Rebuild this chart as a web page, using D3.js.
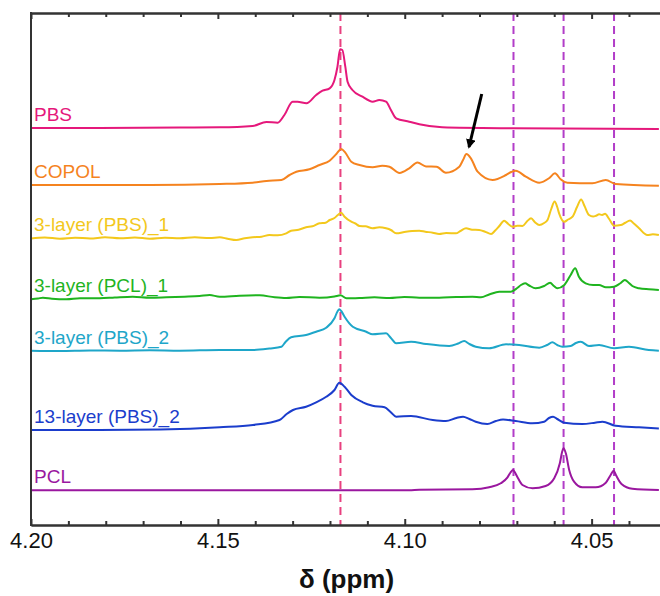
<html>
<head>
<meta charset="utf-8">
<script src="https://cdn.jsdelivr.net/npm/d3@7/dist/d3.min.js"></script>
<style>
body { margin: 0; background: #fff; font-family: "Liberation Sans", Arial, sans-serif; }
.axis path, .axis line { stroke: #333; stroke-width: 2px; }
.axis text { font-size: 22px; fill: #111; font-family: "Liberation Sans", Arial, sans-serif; }
.label { font-size: 19px; }
</style>
</head>
<body>
<svg id="chart" width="660" height="596"></svg>
<script>
// series names, colours and vertical offsets (a.u.)
var names = ["PBS", "COPOL", "3-layer (PBS)_1", "3-layer (PCL)_1", "3-layer (PBS)_2", "13-layer (PBS)_2", "PCL"];
var colors = ["#e5187b", "#f5831f", "#f3c81c", "#1fb41f", "#1ea6c9", "#1b3dcc", "#9a179f"];
var offsets = [397, 340, 287, 226, 174, 95, 35];

// [ppm, intensity]
var pbs = [[4.2,0],[4.1816,0],[4.1602,0.5],[4.1495,0.7],[4.1407,2],[4.137,6],[4.134,5.3],[4.1322,13],[4.13,26.3],[4.1287,26.3],[4.1263,24.7],[4.1237,33],[4.122,37.3],[4.1201,39.7],[4.1188,48],[4.118,61.3],[4.1173,78.7],[4.1167,78],[4.1159,61.3],[4.1153,46.3],[4.114,38],[4.1113,31.3],[4.1086,26.3],[4.1068,28],[4.105,26.3],[4.1037,18],[4.1023,9.7],[4.0988,6.3],[4.0961,3.7],[4.09,0.7],[4.0713,-0.3],[4.032,-1]];
var copol = [[4.2,0],[4.1682,0],[4.1495,1],[4.1407,2.3],[4.137,4],[4.133,5],[4.1308,10],[4.129,13.3],[4.1255,15.7],[4.1228,20],[4.1201,24.3],[4.1183,31],[4.117,36],[4.1159,32.3],[4.1143,23.3],[4.1121,20],[4.1086,17.7],[4.106,19.3],[4.1041,18.3],[4.1014,12],[4.0988,16.7],[4.0966,22.5],[4.0943,18.5],[4.0915,18.3],[4.089,12.3],[4.0854,18.3],[4.0844,25],[4.0835,31],[4.0823,26.7],[4.0805,13.3],[4.0765,5],[4.0729,10],[4.0715,13],[4.0703,14.3],[4.0676,8.3],[4.064,2.3],[4.0614,6.7],[4.0598,11.7],[4.0583,5.7],[4.0565,2.3],[4.0498,1.7],[4.0462,5],[4.0436,1],[4.032,-0.7]];
var layer3pbs1 = [[4.2,-0.5],[4.1963,0.5],[4.1923,-0.7],[4.1882,0.3],[4.1842,-0.5],[4.1802,0.7],[4.1762,-0.3],[4.1722,0.5],[4.1682,-0.7],[4.1642,0.3],[4.1602,-0.3],[4.1562,0.7],[4.1522,0],[4.1495,0.7],[4.1474,-0.7],[4.1451,-2],[4.1428,-0.3],[4.1407,0.7],[4.1383,1.3],[4.1362,3],[4.134,2.7],[4.1317,4.7],[4.1304,7.3],[4.1284,8.3],[4.1264,10.7],[4.1247,11.7],[4.1228,14.7],[4.1212,15.3],[4.1201,18],[4.1188,20],[4.1179,23],[4.117,25.3],[4.1161,21.3],[4.1143,16.3],[4.1132,14.5],[4.1121,12],[4.1105,11.7],[4.1086,9.7],[4.1068,10.7],[4.105,9.7],[4.1037,8],[4.1023,4.7],[4.0997,6.3],[4.098,7],[4.0961,7.3],[4.0945,6.3],[4.0925,5.3],[4.0908,4],[4.0889,5],[4.0863,4.7],[4.0851,7],[4.0836,9.7],[4.082,8.3],[4.0801,8],[4.0785,6.3],[4.0769,4],[4.0758,7.5],[4.0747,12],[4.0734,17.3],[4.0723,14],[4.0711,11.3],[4.0699,12.3],[4.0685,12],[4.0672,17],[4.0662,19.7],[4.0651,15.5],[4.064,13],[4.0627,15],[4.0618,18],[4.0608,29],[4.0599,36.5],[4.0592,31],[4.0587,24.7],[4.0573,16.3],[4.0563,18.5],[4.0551,21.3],[4.0539,31],[4.0528,38.5],[4.0519,32],[4.0507,23],[4.0496,21.5],[4.0488,22.3],[4.048,23.7],[4.0472,23],[4.0464,24.3],[4.0453,19],[4.044,12.3],[4.0422,13],[4.0411,15],[4.0397,17.5],[4.0387,14.5],[4.0373,9.7],[4.0351,3],[4.0336,3.7],[4.032,3]];
var layer3pcl1 = [[4.2,-0.3],[4.1981,0.5],[4.1968,1.3],[4.1944,0.3],[4.1905,-0.3],[4.1869,0.7],[4.1816,0.7],[4.1776,1.5],[4.1728,2.3],[4.1682,1.3],[4.1638,1.7],[4.1589,2.3],[4.1549,3],[4.1522,4],[4.1495,2.3],[4.1442,3.3],[4.1388,3.7],[4.1348,1.7],[4.1317,1],[4.1282,2],[4.1228,1.3],[4.1188,2.5],[4.1172,3.7],[4.1156,0.7],[4.1121,1],[4.1081,1.7],[4.1041,1],[4.1001,2],[4.0961,1.3],[4.0908,1.3],[4.0862,2],[4.0819,2.3],[4.0796,1.7],[4.0774,4.5],[4.0747,7.3],[4.0716,7.3],[4.0699,11],[4.0689,14],[4.0678,15.7],[4.0667,13.5],[4.065,10.7],[4.0627,13],[4.0611,16.3],[4.0601,13],[4.0592,10.7],[4.0573,14],[4.0556,24],[4.0544,30.7],[4.0534,22.3],[4.0516,15.7],[4.0496,14],[4.048,14],[4.0462,11.7],[4.044,12.3],[4.0424,15.5],[4.0411,19],[4.04,16],[4.0391,13],[4.0373,10.7],[4.0347,9.7],[4.032,9]];
var layer3pbs2 = [[4.2,0.3],[4.1923,0],[4.1842,0.5],[4.1762,0.3],[4.1682,0.7],[4.1602,0.3],[4.1495,1],[4.1406,1],[4.1362,2.5],[4.133,4.3],[4.1319,9],[4.1304,13.7],[4.1264,16],[4.1237,19.3],[4.121,23.3],[4.1188,32.7],[4.118,39.5],[4.1175,41.7],[4.117,40],[4.1161,34.3],[4.1139,24.3],[4.1103,19.3],[4.1086,16.7],[4.105,17.7],[4.1037,13],[4.1023,7.7],[4.0983,9.3],[4.0943,7],[4.0881,5],[4.0857,7.5],[4.0841,10],[4.0827,7],[4.081,4.3],[4.0774,2.7],[4.0729,6.7],[4.0694,6],[4.064,3.3],[4.0619,6],[4.0605,8.7],[4.0592,6],[4.0578,4.3],[4.0556,5],[4.0542,8],[4.0529,9.3],[4.0507,5],[4.048,6],[4.044,2.7],[4.04,4.3],[4.0347,1],[4.032,0.3]];
var layer13pbs2 = [[4.2,0],[4.1816,0],[4.1655,0.5],[4.1495,2.7],[4.1406,5],[4.1335,10],[4.1316,16],[4.1299,20],[4.1264,23.3],[4.1237,27.7],[4.121,33.3],[4.1188,40],[4.1175,47.3],[4.1161,43.3],[4.1143,35],[4.1112,27.7],[4.1086,24.3],[4.1054,22.7],[4.1038,18],[4.1023,13.3],[4.0983,14],[4.0925,10],[4.089,9],[4.0862,12],[4.0844,13.3],[4.0827,11],[4.081,8.3],[4.0779,6],[4.0756,9],[4.0737,10.5],[4.0703,9],[4.0659,6.7],[4.0627,8.3],[4.0614,12],[4.0603,13.3],[4.0592,11],[4.0573,7.3],[4.0525,6],[4.0491,7.3],[4.0471,8.3],[4.0436,4.3],[4.0373,2.7],[4.032,1.5]];
var pcl = [[4.2,-0.3],[4.1282,-0.3],[4.0988,-0.3],[4.0961,0.3],[4.0819,0.7],[4.0774,2.7],[4.0743,6.7],[4.0725,12.7],[4.0717,17.5],[4.071,20],[4.0705,17.5],[4.0699,13.3],[4.0685,5],[4.0658,1.7],[4.0623,4],[4.06,11.7],[4.0585,26.7],[4.0579,38],[4.0575,41.7],[4.0569,36.7],[4.056,20],[4.0547,8.3],[4.0525,2.7],[4.0489,2.7],[4.0462,7.3],[4.0449,15],[4.0441,19.3],[4.0435,15],[4.042,6],[4.0391,1.3],[4.032,0]];
var spectra = [pbs, copol, layer3pbs1, layer3pcl1, layer3pbs2, layer13pbs2, pcl];

// reference lines and axis ticks
var pbsLine = [4.1172];
var pclLines = [4.0709, 4.0575, 4.0440];
var majorTicks = [4.20, 4.15, 4.10, 4.05];
var minorTicks = [4.19, 4.18, 4.17, 4.16, 4.14, 4.13, 4.12, 4.11, 4.09, 4.08, 4.07, 4.06, 4.04];
// arrow annotation: [ppm, a.u.]
var arrowFrom = [4.0794, 431];
var arrowTo = [4.0828, 378];

var svg = d3.select("#chart");
var plotL = 31, plotR = 660, plotT = 13, plotB = 525;

var x = d3.scaleLinear().domain([4.2, 4.0317]).range([plotL, plotR]);
var y = d3.scaleLinear().domain([0, 512]).range([plotB, plotT]);

// dashed guides
svg.selectAll("line.pbsref").data(pbsLine).enter().append("line")
    .attr("x1", function(d) { return x(d); }).attr("x2", function(d) { return x(d); })
    .attr("y1", plotT).attr("y2", plotB)
    .attr("stroke", "#e8407f").attr("stroke-width", 2).attr("stroke-dasharray", "8,5");
svg.selectAll("line.pclref").data(pclLines).enter().append("line")
    .attr("x1", function(d) { return x(d); }).attr("x2", function(d) { return x(d); })
    .attr("y1", plotT).attr("y2", plotB)
    .attr("stroke", "#b23dc8").attr("stroke-width", 2).attr("stroke-dasharray", "8,5");

// spectra
spectra.forEach(function(s, i) {
    var line = d3.line()
        .x(function(d) { return x(d[0]); })
        .y(function(d) { return y(d[1] + offsets[i]); })
        .curve(d3.curveMonotoneX);
    svg.append("path")
        .datum(s)
        .attr("d", line)
        .attr("fill", "none")
        .attr("stroke", colors[i])
        .attr("stroke-width", 2)
        .attr("stroke-linejoin", "round");
    svg.append("text")
        .attr("class", "label")
        .attr("x", plotL + 3)
        .attr("y", y(offsets[i]) - 7)
        .attr("fill", colors[i])
        .text(names[i]);
});

// arrow
svg.append("defs").append("marker")
    .attr("id", "head").attr("viewBox", "0 0 10 10")
    .attr("refX", 8).attr("refY", 5)
    .attr("markerWidth", 3.2).attr("markerHeight", 3.2)
    .attr("orient", "auto")
  .append("path").attr("d", "M0,0L10,5L0,10z").attr("fill", "#000");
svg.append("line")
    .attr("x1", x(arrowFrom[0])).attr("y1", y(arrowFrom[1]))
    .attr("x2", x(arrowTo[0])).attr("y2", y(arrowTo[1]))
    .attr("stroke", "#000").attr("stroke-width", 3)
    .attr("marker-end", "url(#head)");

// axes
svg.append("g").attr("class", "axis")
    .attr("transform", "translate(0," + plotB + ")")
    .call(d3.axisBottom(x).tickValues(minorTicks).tickSizeInner(-4).tickSizeOuter(0).tickFormat(""));
svg.append("g").attr("class", "axis")
    .attr("transform", "translate(0," + plotB + ")")
    .call(d3.axisBottom(x).tickValues(majorTicks).tickSizeInner(-6).tickSizeOuter(0).tickPadding(7)
        .tickFormat(d3.format(".2f")));
svg.append("g").attr("class", "axis")
    .attr("transform", "translate(0," + plotT + ")")
    .call(d3.axisTop(x).tickValues(minorTicks).tickSizeInner(-4).tickSizeOuter(0).tickFormat(""));
svg.append("g").attr("class", "axis")
    .attr("transform", "translate(0," + plotT + ")")
    .call(d3.axisTop(x).tickValues(majorTicks).tickSizeInner(-6).tickSizeOuter(0).tickFormat(""));
svg.append("line")
    .attr("x1", plotL).attr("x2", plotL).attr("y1", plotT - 1).attr("y2", plotB + 1)
    .attr("stroke", "#333").attr("stroke-width", 2);

svg.append("text")
    .attr("x", (plotL + plotR) / 2 + 1)
    .attr("y", 588)
    .attr("text-anchor", "middle")
    .attr("font-size", "26px")
    .attr("font-weight", "bold")
    .attr("fill", "#111")
    .text("δ (ppm)");
</script>
</body>
</html>
